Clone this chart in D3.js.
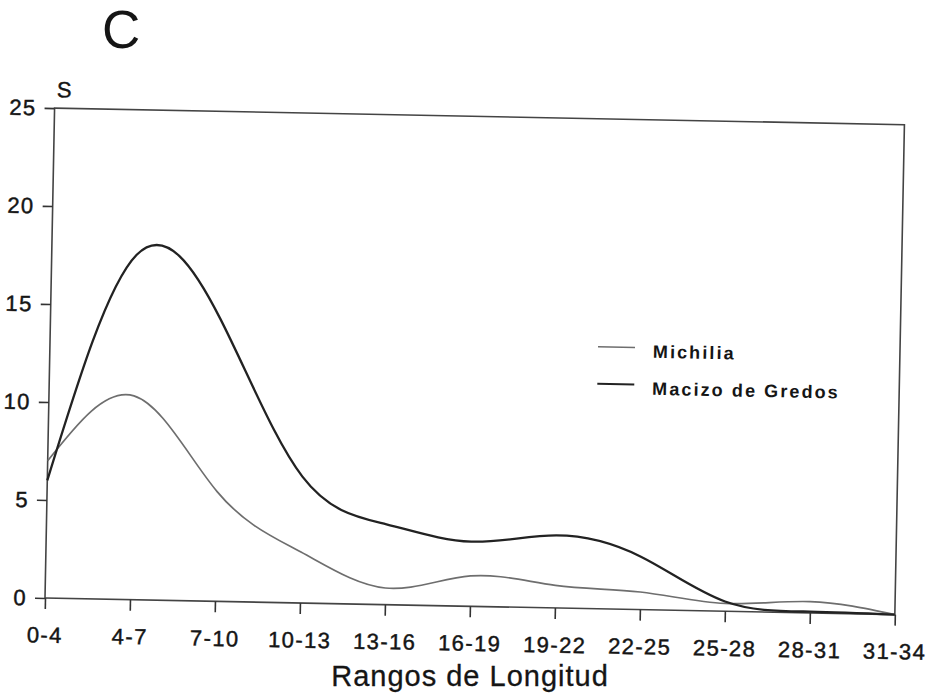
<!DOCTYPE html>
<html>
<head>
<meta charset="utf-8">
<script src="https://cdn.jsdelivr.net/npm/d3@7"></script>
<style>
  body { margin: 0; background: #fff; }
  svg { display: block; }
  text { font-family: "Liberation Sans", Arial, sans-serif; fill: #151515; }
</style>
</head>
<body>
<div id="chart"></div>
<script>
// longitude ranges (x categories)
const rangos = ["0-4", "4-7", "7-10", "10-13", "13-16", "16-19", "19-22", "22-25", "25-28", "28-31", "31-34"];

// S values
const michilia = [7.0, 10.4, 5.6, 2.6, 0.85, 1.55, 1.15, 0.9, 0.4, 0.58, 0];
const gredos = [6.0, 17.6, 14.4, 6.45, 4.1, 3.3, 3.7, 2.7, 0.5, 0.07, 0];

const yTicks = [0, 5, 10, 15, 20, 25];

const seriesNames = ["Michilia", "Macizo de Gredos"];

const width = 935;
const height = 697;
const margin = { top: 108, right: 40, bottom: 99, left: 45 };

const svg = d3.select("#chart")
    .append("svg")
    .attr("width", width)
    .attr("height", height);

// the scanned page is tilted a little, so the plot is turned round its origin
const plot = svg.append("g")
    .attr("transform", `rotate(1.12, ${margin.left}, ${height - margin.bottom})`);

const xScale = d3.scalePoint()
    .domain(rangos)
    .range([margin.left, width - margin.right]);

const yScale = d3.scaleLinear()
    .domain([0, 25])
    .range([height - margin.bottom, margin.top]);

plot.append("rect")
    .attr("x", margin.left)
    .attr("y", margin.top)
    .attr("width", width - margin.left - margin.right)
    .attr("height", height - margin.top - margin.bottom)
    .attr("fill", "none")
    .attr("stroke", "#444")
    .attr("stroke-width", 1.6);

const yAxis = plot.append("g")
    .attr("transform", `translate(${margin.left},0)`)
    .call(d3.axisLeft(yScale).tickValues(yTicks).tickSize(10).tickPadding(8));

const xAxis = plot.append("g")
    .attr("transform", `translate(0,${height - margin.bottom})`)
    .call(d3.axisBottom(xScale).tickSize(11).tickPadding(18));

[yAxis, xAxis].forEach(ax => {
    ax.select(".domain").remove();
    ax.selectAll(".tick line").attr("stroke", "#333").attr("stroke-width", 1.6);
    ax.selectAll(".tick text")
        .attr("fill", "#151515")
        .attr("stroke", "#151515")
        .attr("stroke-width", 0.45)
        .style("font-family", "'Liberation Sans', Arial, sans-serif")
        .style("font-size", "22px")
        .style("letter-spacing", "1.4px");
});

const line = d3.line()
    .x((d, i) => xScale(rangos[i]))
    .y(d => yScale(d))
    .curve(d3.curveNatural);

plot.append("path")
    .datum(michilia)
    .attr("fill", "none")
    .attr("stroke", "#6e6e6e")
    .attr("stroke-width", 1.7)
    .attr("d", line);

plot.append("path")
    .datum(gredos)
    .attr("fill", "none")
    .attr("stroke", "#222")
    .attr("stroke-width", 2.3)
    .attr("d", line);

// legend
const legend = plot.append("g").attr("transform", "translate(593,336)");
const legendStyles = [
    { stroke: "#6e6e6e", width: 1.5 },
    { stroke: "#222", width: 2 }
];
seriesNames.forEach((name, i) => {
    legend.append("line")
        .attr("x1", 0).attr("x2", 37)
        .attr("y1", i * 37).attr("y2", i * 37)
        .attr("stroke", legendStyles[i].stroke)
        .attr("stroke-width", legendStyles[i].width);
    legend.append("text")
        .attr("x", 55)
        .attr("y", i * 37 + 10)
        .style("font-size", "18px")
        .style("font-weight", "bold")
        .style("letter-spacing", "2.1px")
        .text(name);
});

plot.append("text")
    .attr("x", margin.left + 2)
    .attr("y", 97)
    .attr("stroke", "#151515")
    .attr("stroke-width", 0.4)
    .style("font-size", "22px")
    .text("S");

svg.append("text")
    .attr("x", 470)
    .attr("y", 686)
    .attr("text-anchor", "middle")
    .attr("stroke", "#151515")
    .attr("stroke-width", 0.3)
    .style("font-size", "29px")
    .style("letter-spacing", "1px")
    .text("Rangos de Longitud");

svg.append("text")
    .attr("x", 102)
    .attr("y", 48)
    .style("font-size", "53px")
    .attr("fill", "#2a2a2a")
    .text("C");
</script>
</body>
</html>
